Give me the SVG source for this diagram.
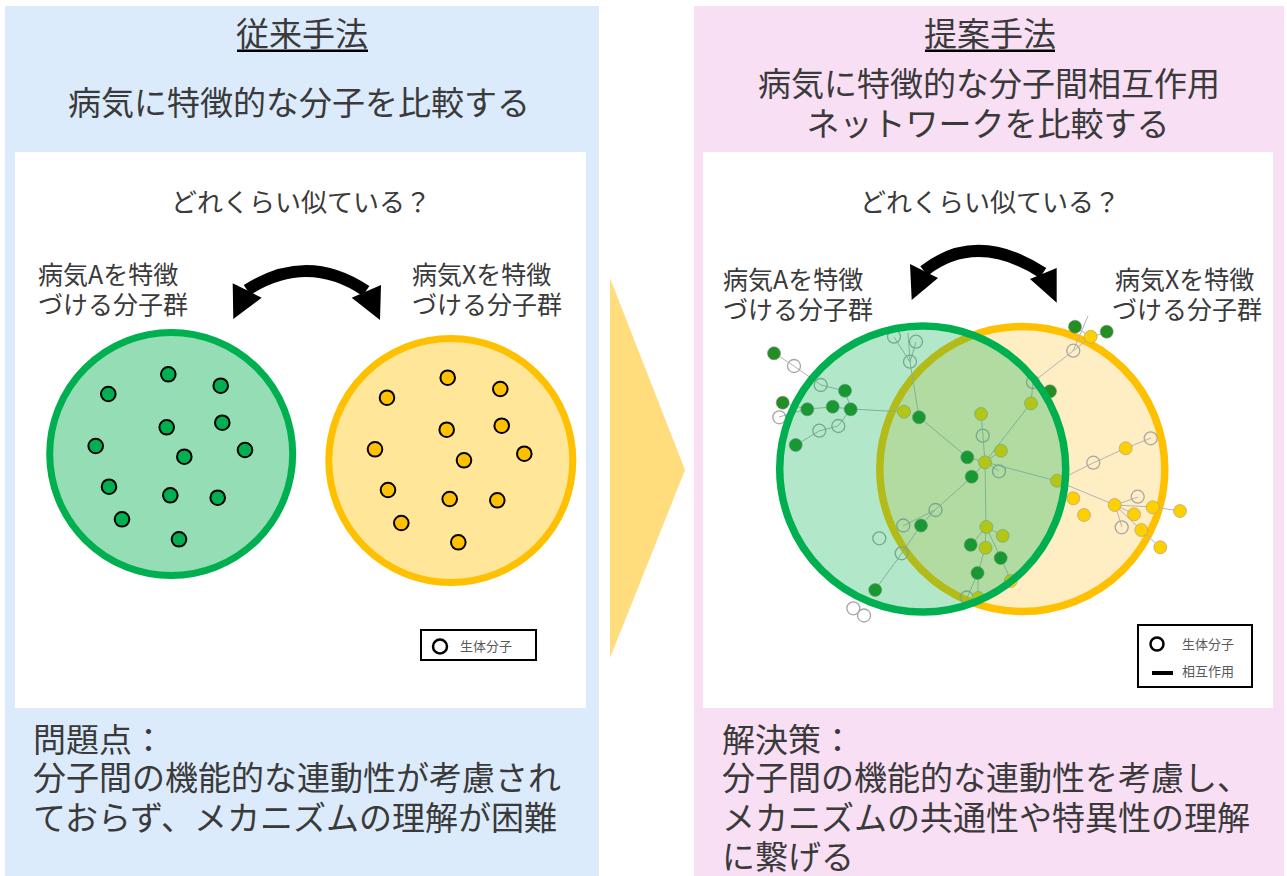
<svg xmlns="http://www.w3.org/2000/svg" width="1287" height="876" viewBox="0 0 1287 876">
<style>
.t{font-family:"Noto Sans CJK JP","Noto Sans",sans-serif;fill:#3a3a3a}
.big{font-size:33px}
.mid{font-size:26px}
.lab{font-size:25px}
.sm{font-size:13px;fill:#595959}
.dg{fill:#00B050;stroke:#000;stroke-width:2}
.dy{fill:#FFC000;stroke:#000;stroke-width:2}
.e{stroke:#b4b4b4;stroke-width:1;fill:none}
.g{fill:#238E23;stroke:#8a8a8a;stroke-width:0.6}
.y{fill:#FFD000;stroke:#9a9a9a;stroke-width:0.6}
.h{fill:none;stroke:#a6a6a6;stroke-width:1.3}
.arrow{fill:#000}
</style>
<rect width="1287" height="876" fill="#fff"/>
<g id="panel-left">
<rect x="5" y="6" width="594" height="870" fill="#DCEBFB"/>
<rect x="15" y="152" width="571" height="556" fill="#fff"/>
<text class="t big" x="302" y="46" text-anchor="middle">従来手法</text>
<rect x="237" y="49.5" width="131" height="2.5" fill="#000"/>
<text class="t big" x="299" y="115" text-anchor="middle">病気に特徴的な分子を比較する</text>
<text class="t mid" x="301" y="212" text-anchor="middle">どれくらい似ている？</text>
<text class="t lab" x="38" y="284">病気Aを特徴</text>
<text class="t lab" x="38" y="314">づける分子群</text>
<text class="t lab" x="412" y="284">病気Xを特徴</text>
<text class="t lab" x="412" y="314">づける分子群</text>
<text class="t big" x="33" y="752">問題点：</text>
<text class="t big" x="33" y="790">分子間の機能的な連動性が考慮され</text>
<text class="t big" x="33" y="830">ておらず、メカニズムの理解が困難</text>
</g>
<g id="panel-right">
<rect x="694" y="6" width="590" height="870" fill="#F8DFF4"/>
<rect x="703" y="152" width="570" height="556" fill="#fff"/>
<text class="t big" x="990" y="46" text-anchor="middle">提案手法</text>
<rect x="925" y="49.5" width="130" height="2.5" fill="#000"/>
<text class="t big" x="989" y="96" text-anchor="middle">病気に特徴的な分子間相互作用</text>
<text class="t big" x="988" y="136" text-anchor="middle">ネットワークを比較する</text>
<text class="t mid" x="990" y="212" text-anchor="middle">どれくらい似ている？</text>
<text class="t lab" x="723" y="289">病気Aを特徴</text>
<text class="t lab" x="723" y="319">づける分子群</text>
<text class="t lab" x="1115" y="289">病気Xを特徴</text>
<text class="t lab" x="1112" y="319">づける分子群</text>
<text class="t big" x="722" y="752">解決策：</text>
<text class="t big" x="722" y="790">分子間の機能的な連動性を考慮し、</text>
<text class="t big" x="722" y="830">メカニズムの共通性や特異性の理解</text>
<text class="t big" x="722" y="869">に繋げる</text>
</g>
<g id="transition-arrow">
<polygon points="610,278 685,470 610,658" fill="#FFDC7C"/>
</g>
<g id="compare-arrow-left">
<path d="M247,290 Q307.5,251.5 366,291" stroke="#000" stroke-width="12" fill="none"/>
<polygon class="arrow" points="232.7,283.3 261.7,297.7 233.3,319"/>
<polygon class="arrow" points="351.7,297.7 381,285 380,320"/>
</g>
<g id="compare-arrow-right">
<path d="M924,271 Q976.5,230 1043,273" stroke="#000" stroke-width="12" fill="none"/>
<polygon class="arrow" points="910,264 938,278 911.7,300"/>
<polygon class="arrow" points="1030,279 1056.7,268 1056.7,302.7"/>
</g>
<g id="set-A-left">
<circle cx="171.2" cy="454" r="121.5" fill="#95DDB4" stroke="#00B050" stroke-width="7"/>
<circle class="dg" cx="168.3" cy="374.3" r="7.3"/>
<circle class="dg" cx="220.7" cy="385.7" r="7.3"/>
<circle class="dg" cx="108.3" cy="394" r="7.3"/>
<circle class="dg" cx="166.7" cy="427.3" r="7.3"/>
<circle class="dg" cx="222.3" cy="422.7" r="7.3"/>
<circle class="dg" cx="95.7" cy="446" r="7.3"/>
<circle class="dg" cx="184.3" cy="456.7" r="7.3"/>
<circle class="dg" cx="245" cy="450" r="7.3"/>
<circle class="dg" cx="109" cy="486.7" r="7.3"/>
<circle class="dg" cx="170.3" cy="495.3" r="7.3"/>
<circle class="dg" cx="217.7" cy="497.7" r="7.3"/>
<circle class="dg" cx="122" cy="519.3" r="7.3"/>
<circle class="dg" cx="179" cy="539.3" r="7.3"/>
</g>
<g id="set-X-left">
<circle cx="450.8" cy="460.5" r="122" fill="#FFE699" stroke="#FFC000" stroke-width="7"/>
<circle class="dy" cx="447.7" cy="377.7" r="7.3"/>
<circle class="dy" cx="500.3" cy="389" r="7.3"/>
<circle class="dy" cx="387" cy="397.7" r="7.3"/>
<circle class="dy" cx="446.7" cy="429.7" r="7.3"/>
<circle class="dy" cx="501.7" cy="425.7" r="7.3"/>
<circle class="dy" cx="375" cy="449.3" r="7.3"/>
<circle class="dy" cx="464" cy="460.3" r="7.3"/>
<circle class="dy" cx="524.3" cy="453.7" r="7.3"/>
<circle class="dy" cx="388" cy="490" r="7.3"/>
<circle class="dy" cx="449.7" cy="499" r="7.3"/>
<circle class="dy" cx="497.3" cy="500.3" r="7.3"/>
<circle class="dy" cx="401.3" cy="523" r="7.3"/>
<circle class="dy" cx="458.3" cy="542.3" r="7.3"/>
</g>
<g id="legend-left">
<rect x="421" y="630" width="115" height="30" fill="#fff" stroke="#000" stroke-width="2"/>
<circle cx="440" cy="646.5" r="7" fill="#fff" stroke="#000" stroke-width="2.5"/>
<text class="t sm" x="460" y="651">生体分子</text>
</g>
<g id="set-X-right">
<circle cx="1022.3" cy="469" r="142.5" fill="#FFEEC4" stroke="#FFC000" stroke-width="7.5"/>
</g>
<g id="connectors">
<path class="e" d="M774,353L794,366L821,385L845,391L851,409M783,403L807,409L833,407L851,409L838,426L819,431L796,445M851,409L904,412M779,417L807,409M894,337L910,362M916,342L910,362L919,417L967,457L985,462M985,462L983,436L981,414M985,462L1001,451M985,462L999,471M985,462L972,477M985,462L1057,481M985,462L1031,403M985,462L986,527M1031,403L1033,382L1050,391M1033,382L1073,351L1091,337M1073,351L1088,316M1091,337L1075,327M1091,337L1107,332M1057,481L1093,463L1126,448L1151,438M1057,481L1115,505L1138,497M1115,505L1134,514M1115,505L1153,507L1180,511M1115,505L1122,527M1115,505L1141,530L1160,547M972,477L935,510L903,526M935,510L921,525L902,553L875,590M986,527L1003,536M986,527L971,545M986,527L985,548L978,573L967,598M978,573L978,598M986,527L1001,558L1011,581M908,333L910,362"/>
</g>
<g id="network-nodes">
<circle class="g" cx="774" cy="353.3" r="6.5"/>
<circle class="h" cx="794" cy="366" r="6.5"/>
<circle class="h" cx="820.7" cy="385" r="6.5"/>
<circle class="g" cx="845" cy="390.7" r="6.5"/>
<circle class="g" cx="782.7" cy="402.7" r="6.5"/>
<circle class="h" cx="779.3" cy="417.3" r="6.5"/>
<circle class="g" cx="807.3" cy="409.3" r="6.5"/>
<circle class="g" cx="832.7" cy="406.7" r="6.5"/>
<circle class="g" cx="850.7" cy="409.3" r="6.5"/>
<circle class="h" cx="838.3" cy="426" r="6.5"/>
<circle class="h" cx="819.3" cy="430.7" r="6.5"/>
<circle class="g" cx="795.7" cy="445" r="6.5"/>
<circle class="h" cx="894" cy="336.7" r="6.5"/>
<circle class="h" cx="916" cy="341.7" r="6.5"/>
<circle class="h" cx="910" cy="361.7" r="6.5"/>
<circle class="y" cx="904" cy="411.7" r="6.5"/>
<circle class="g" cx="919" cy="417.3" r="6.5"/>
<circle class="y" cx="981" cy="414" r="6.5"/>
<circle class="h" cx="982.7" cy="435.7" r="6.5"/>
<circle class="g" cx="967.3" cy="457.3" r="6.5"/>
<circle class="y" cx="985" cy="462.3" r="6.5"/>
<circle class="y" cx="1001" cy="450.7" r="6.5"/>
<circle class="h" cx="999" cy="471.3" r="6.5"/>
<circle class="g" cx="971.7" cy="476.7" r="6.5"/>
<circle class="h" cx="935.5" cy="510" r="6.5"/>
<circle class="h" cx="903.3" cy="525.5" r="6.5"/>
<circle class="g" cx="921" cy="525.5" r="6.5"/>
<circle class="h" cx="879.3" cy="538.3" r="6.5"/>
<circle class="h" cx="901.7" cy="553.3" r="6.5"/>
<circle class="g" cx="875.2" cy="590" r="6.5"/>
<circle class="h" cx="853.3" cy="608.3" r="6.5"/>
<circle class="h" cx="864" cy="615.5" r="6.5"/>
<circle class="y" cx="986.3" cy="527" r="6.5"/>
<circle class="y" cx="1002.7" cy="535.8" r="6.5"/>
<circle class="g" cx="970.7" cy="544.8" r="6.5"/>
<circle class="y" cx="985.5" cy="547.8" r="6.5"/>
<circle class="g" cx="1000.7" cy="558" r="6.5"/>
<circle class="g" cx="977.5" cy="573" r="6.5"/>
<circle class="y" cx="1010.7" cy="581" r="6.5"/>
<circle class="h" cx="966.7" cy="597.5" r="6.5"/>
<circle class="y" cx="978.3" cy="598" r="6.5"/>
<circle class="y" cx="1057" cy="480.7" r="6.5"/>
<circle class="y" cx="1031" cy="403.3" r="6.5"/>
<circle class="g" cx="1050" cy="391.3" r="6.5"/>
<circle class="h" cx="1033" cy="382" r="6.5"/>
<circle class="h" cx="1073.3" cy="350.7" r="6.5"/>
<circle class="g" cx="1075" cy="326.7" r="6.5"/>
<circle class="y" cx="1090.7" cy="336.7" r="6.5"/>
<circle class="g" cx="1106.7" cy="331.7" r="6.5"/>
<circle class="h" cx="1093.3" cy="462.7" r="6.5"/>
<circle class="y" cx="1125.7" cy="448.3" r="6.5"/>
<circle class="h" cx="1150.7" cy="438.3" r="6.5"/>
<circle class="y" cx="1073.3" cy="498.3" r="6.5"/>
<circle class="y" cx="1084" cy="515" r="6.5"/>
<circle class="y" cx="1114.7" cy="505" r="6.5"/>
<circle class="h" cx="1137.7" cy="496.7" r="6.5"/>
<circle class="y" cx="1134" cy="514.3" r="6.5"/>
<circle class="y" cx="1152.7" cy="507.3" r="6.5"/>
<circle class="y" cx="1180" cy="511" r="6.5"/>
<circle class="h" cx="1121.7" cy="527.3" r="6.5"/>
<circle class="y" cx="1141.3" cy="530" r="6.5"/>
<circle class="y" cx="1160.3" cy="547.3" r="6.5"/>
</g>
<g id="set-A-right">
<circle cx="922.7" cy="469" r="143" fill="#00B050" fill-opacity="0.3" stroke="#00B050" stroke-width="7.5"/>
</g>
<g id="legend-right">
<rect x="1138" y="625" width="114" height="62" fill="#fff" stroke="#000" stroke-width="2"/>
<circle cx="1157" cy="644" r="6.5" fill="#fff" stroke="#000" stroke-width="2.5"/>
<text class="t sm" x="1182" y="649">生体分子</text>
<line x1="1152" y1="673" x2="1173" y2="673" stroke="#000" stroke-width="4"/>
<text class="t sm" x="1182" y="676">相互作用</text>
</g>
</svg>
